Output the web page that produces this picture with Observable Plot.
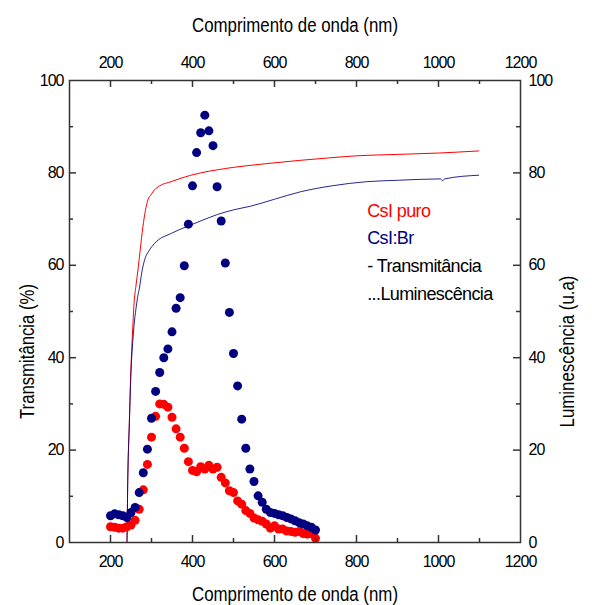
<!DOCTYPE html>
<html><head><meta charset="utf-8">
<script src="https://cdn.jsdelivr.net/npm/d3@7"></script>
<script src="https://cdn.jsdelivr.net/npm/@observablehq/plot@0.6"></script>
<style>
body{margin:0;background:#fff;}
#chart svg{font-family:"Liberation Sans",Arial,sans-serif;}
#chart svg text{letter-spacing:-1px;}
</style></head><body><div id="chart"></div>
<script>
// Luminescence (dots), wavelength in nm
const lumNm = [200,210,220,230,240,250,260,270,280,290,300,310,320,330,340,350,360,370,380,390,400,410,420,430,440,450,460,470,480,490,500,510,520,530,540,550,560,570,580,590,600,610,620,630,640,650,660,670,680,690,700];
const lumPuro = [3.4,3.3,3.1,3.1,3.4,3.8,4.8,7.2,11.4,16.9,22.8,27.3,30.0,29.9,29.3,27.1,24.6,22.8,20.4,17.5,15.6,15.3,16.4,15.9,16.7,15.9,16.3,14.1,12.9,11.2,10.8,9.0,8.3,6.9,6.3,5.3,4.9,4.6,4.0,3.1,3.6,2.9,2.9,2.5,2.4,2.2,2.4,1.95,1.8,1.95,0.9];
const lumBr = [5.8,6.2,6.0,5.8,5.4,6.5,7.6,10.8,15.1,20.2,26.9,32.7,36.8,40.0,41.9,45.6,50.7,53.0,59.9,68.9,77.2,84.4,88.7,92.5,89.1,85.9,77.0,69.6,60.5,49.8,40.9,33.9,26.7,20.4,15.9,13.2,10.1,8.7,7.2,6.5,6.3,6.0,5.8,5.4,5.1,4.7,4.3,4.0,3.6,3.3,2.7];

// Transmittance (lines)
const transPuroNm = [190,240,242,246,250,254,258,262,267,272,279,285,291,299,307,320,348,396,420,500,580,660,740,800,900,1000,1098];
const transPuroT  = [0,0,13,26,38,46,52.4,55.5,59,63,68.3,71.8,74.1,75.3,76.3,77.2,78.1,79.5,80.0,81.2,82.0,82.7,83.3,83.7,84.0,84.3,84.75];
const transBrNm = [190,240,242,246,250,254,258,262,266,271,276,283,295,307,348,384,420,461,500,542,600,663,740,825,900,1005,1010,1015,1098];
const transBrT  = [0,0,13,26,37,43,47.5,50.5,53,55.3,58.3,61.1,63.3,64.7,66.9,68.3,69.6,71.0,72,72.8,74.3,75.9,77.2,78.1,78.4,78.7,78.3,78.7,79.5];

// Axes
const xTickLabels = [200,400,600,800,1000,1200];
const xMajorTicks = [200,400,600,800,1000];
const xMinorTicks = [300,500,700,900,1100];
const yTickLabels = [0,20,40,60,80,100];
const yMajorTicks = [20,40,60,80];
const yMinorTicks = [10,30,50,70,90];

const xTitle = "Comprimento de onda (nm)";
const yLeftTitle = "Transmitância (%)";
const yRightTitle = "Luminescência (u.a)";
const legendLabels = ["CsI puro","CsI:Br","- Transmitância","...Luminescência"];
const legendColors = ["#ff0000","#000080","#000000","#000000"];

const puroLum = lumNm.map((nm,i)=>({nm, v: lumPuro[i]}));
const brLum = lumNm.map((nm,i)=>({nm, v: lumBr[i]}));
const puroT = transPuroNm.map((nm,i)=>({nm, t: transPuroT[i]}));
const brT = transBrNm.map((nm,i)=>({nm, t: transBrT[i]}));

const W=592, H=605, mL=69, mR=72, mT=80, mB=63;
const fh = H-mT-mB, fw = W-mL-mR;
const majLen = 7, minLen = 4;
const axisColor = "#333";

const legendDy = [136,163,191.5,219];

const chart = Plot.plot({
  width: W, height: H,
  marginLeft: mL, marginRight: mR, marginTop: mT, marginBottom: mB,
  style: {background: "white", overflow: "visible", fontFamily: '"Liberation Sans",Arial,sans-serif'},
  x: {domain: [100,1200]},
  y: {domain: [0,100]},
  marks: [
    Plot.line(puroT, {x:"nm", y:"t", stroke:"#ff0000", strokeWidth:1, curve:"monotone-x"}),
    Plot.line(brT, {x:"nm", y:"t", stroke:"#000080", strokeWidth:1, curve:"monotone-x", strokeOpacity:0.85}),
    Plot.dot(puroLum, {x:"nm", y:"v", r:4.5, fill:"#ff0000"}),
    Plot.dot(brLum, {x:"nm", y:"v", r:4.5, fill:"#000080"}),
    Plot.frame({stroke: axisColor, strokeWidth: 1.5}),
    Plot.tickX(xMajorTicks, {x:d=>d, insetTop: fh-majLen, stroke: axisColor, strokeWidth: 1.5}),
    Plot.tickX(xMinorTicks, {x:d=>d, insetTop: fh-minLen, stroke: axisColor, strokeWidth: 1.5}),
    Plot.tickX(xMajorTicks, {x:d=>d, insetBottom: fh-majLen, stroke: axisColor, strokeWidth: 1.5}),
    Plot.tickX(xMinorTicks, {x:d=>d, insetBottom: fh-minLen, stroke: axisColor, strokeWidth: 1.5}),
    Plot.tickY(yMajorTicks, {y:d=>d, insetRight: fw-majLen, stroke: axisColor, strokeWidth: 1.5}),
    Plot.tickY(yMinorTicks, {y:d=>d, insetRight: fw-minLen, stroke: axisColor, strokeWidth: 1.5}),
    Plot.tickY(yMajorTicks, {y:d=>d, insetLeft: fw-majLen, stroke: axisColor, strokeWidth: 1.5}),
    Plot.tickY(yMinorTicks, {y:d=>d, insetLeft: fw-minLen, stroke: axisColor, strokeWidth: 1.5}),
    Plot.axisX({anchor:"bottom", ticks:xTickLabels, tickSize:0, tickPadding:13, fontSize:16, label:null, tickFormat:d=>String(d), fill:"#000"}),
    Plot.axisX({anchor:"top", ticks:xTickLabels, tickSize:0, tickPadding:13, fontSize:16, label:null, tickFormat:d=>String(d), fill:"#000"}),
    Plot.axisY({anchor:"left", ticks:yTickLabels, tickSize:0, tickPadding:6, fontSize:16, label:null, tickFormat:d=>String(d), fill:"#000"}),
    Plot.axisY({anchor:"right", ticks:yTickLabels, tickSize:0, tickPadding:8, fontSize:16, label:null, tickFormat:d=>String(d), fill:"#000"}),
    Plot.text([xTitle], {text:d=>d, frameAnchor:"bottom", dy:58, lineAnchor:"bottom", textAnchor:"middle", fontSize:20, fill:"#000"}),
    Plot.text([xTitle], {text:d=>d, frameAnchor:"top", dy:-49, lineAnchor:"bottom", textAnchor:"middle", fontSize:20, fill:"#000"}),
    Plot.text([yLeftTitle], {text:d=>d, frameAnchor:"left", dx:-36, dy:40, rotate:-90, lineAnchor:"bottom", textAnchor:"middle", fontSize:20, fill:"#000"}),
    Plot.text([yRightTitle], {text:d=>d, frameAnchor:"right", dx:53, dy:40, rotate:-90, lineAnchor:"bottom", textAnchor:"middle", fontSize:20, fill:"#000"}),
    ...legendLabels.map((lab,i)=>Plot.text([lab], {text:d=>d, frameAnchor:"top-left", dx:297.7, dy:legendDy[i], lineAnchor:"bottom", textAnchor:"start", fontSize:18, fill:legendColors[i]}))
  ]
});
document.getElementById("chart").appendChild(chart);

const lengths = {};
lengths[xTitle] = 206; lengths[yLeftTitle] = 135; lengths[yRightTitle] = 152;
d3.select(chart).selectAll("text").each(function(){
  const t = this.textContent;
  if (lengths[t]) {
    this.setAttribute("textLength", lengths[t]);
    this.setAttribute("lengthAdjust", "spacingAndGlyphs");
    this.style.letterSpacing = "0px";
  } else if (legendLabels.includes(t)) {
    this.style.letterSpacing = "-0.6px";
  }
});
</script></body></html>
